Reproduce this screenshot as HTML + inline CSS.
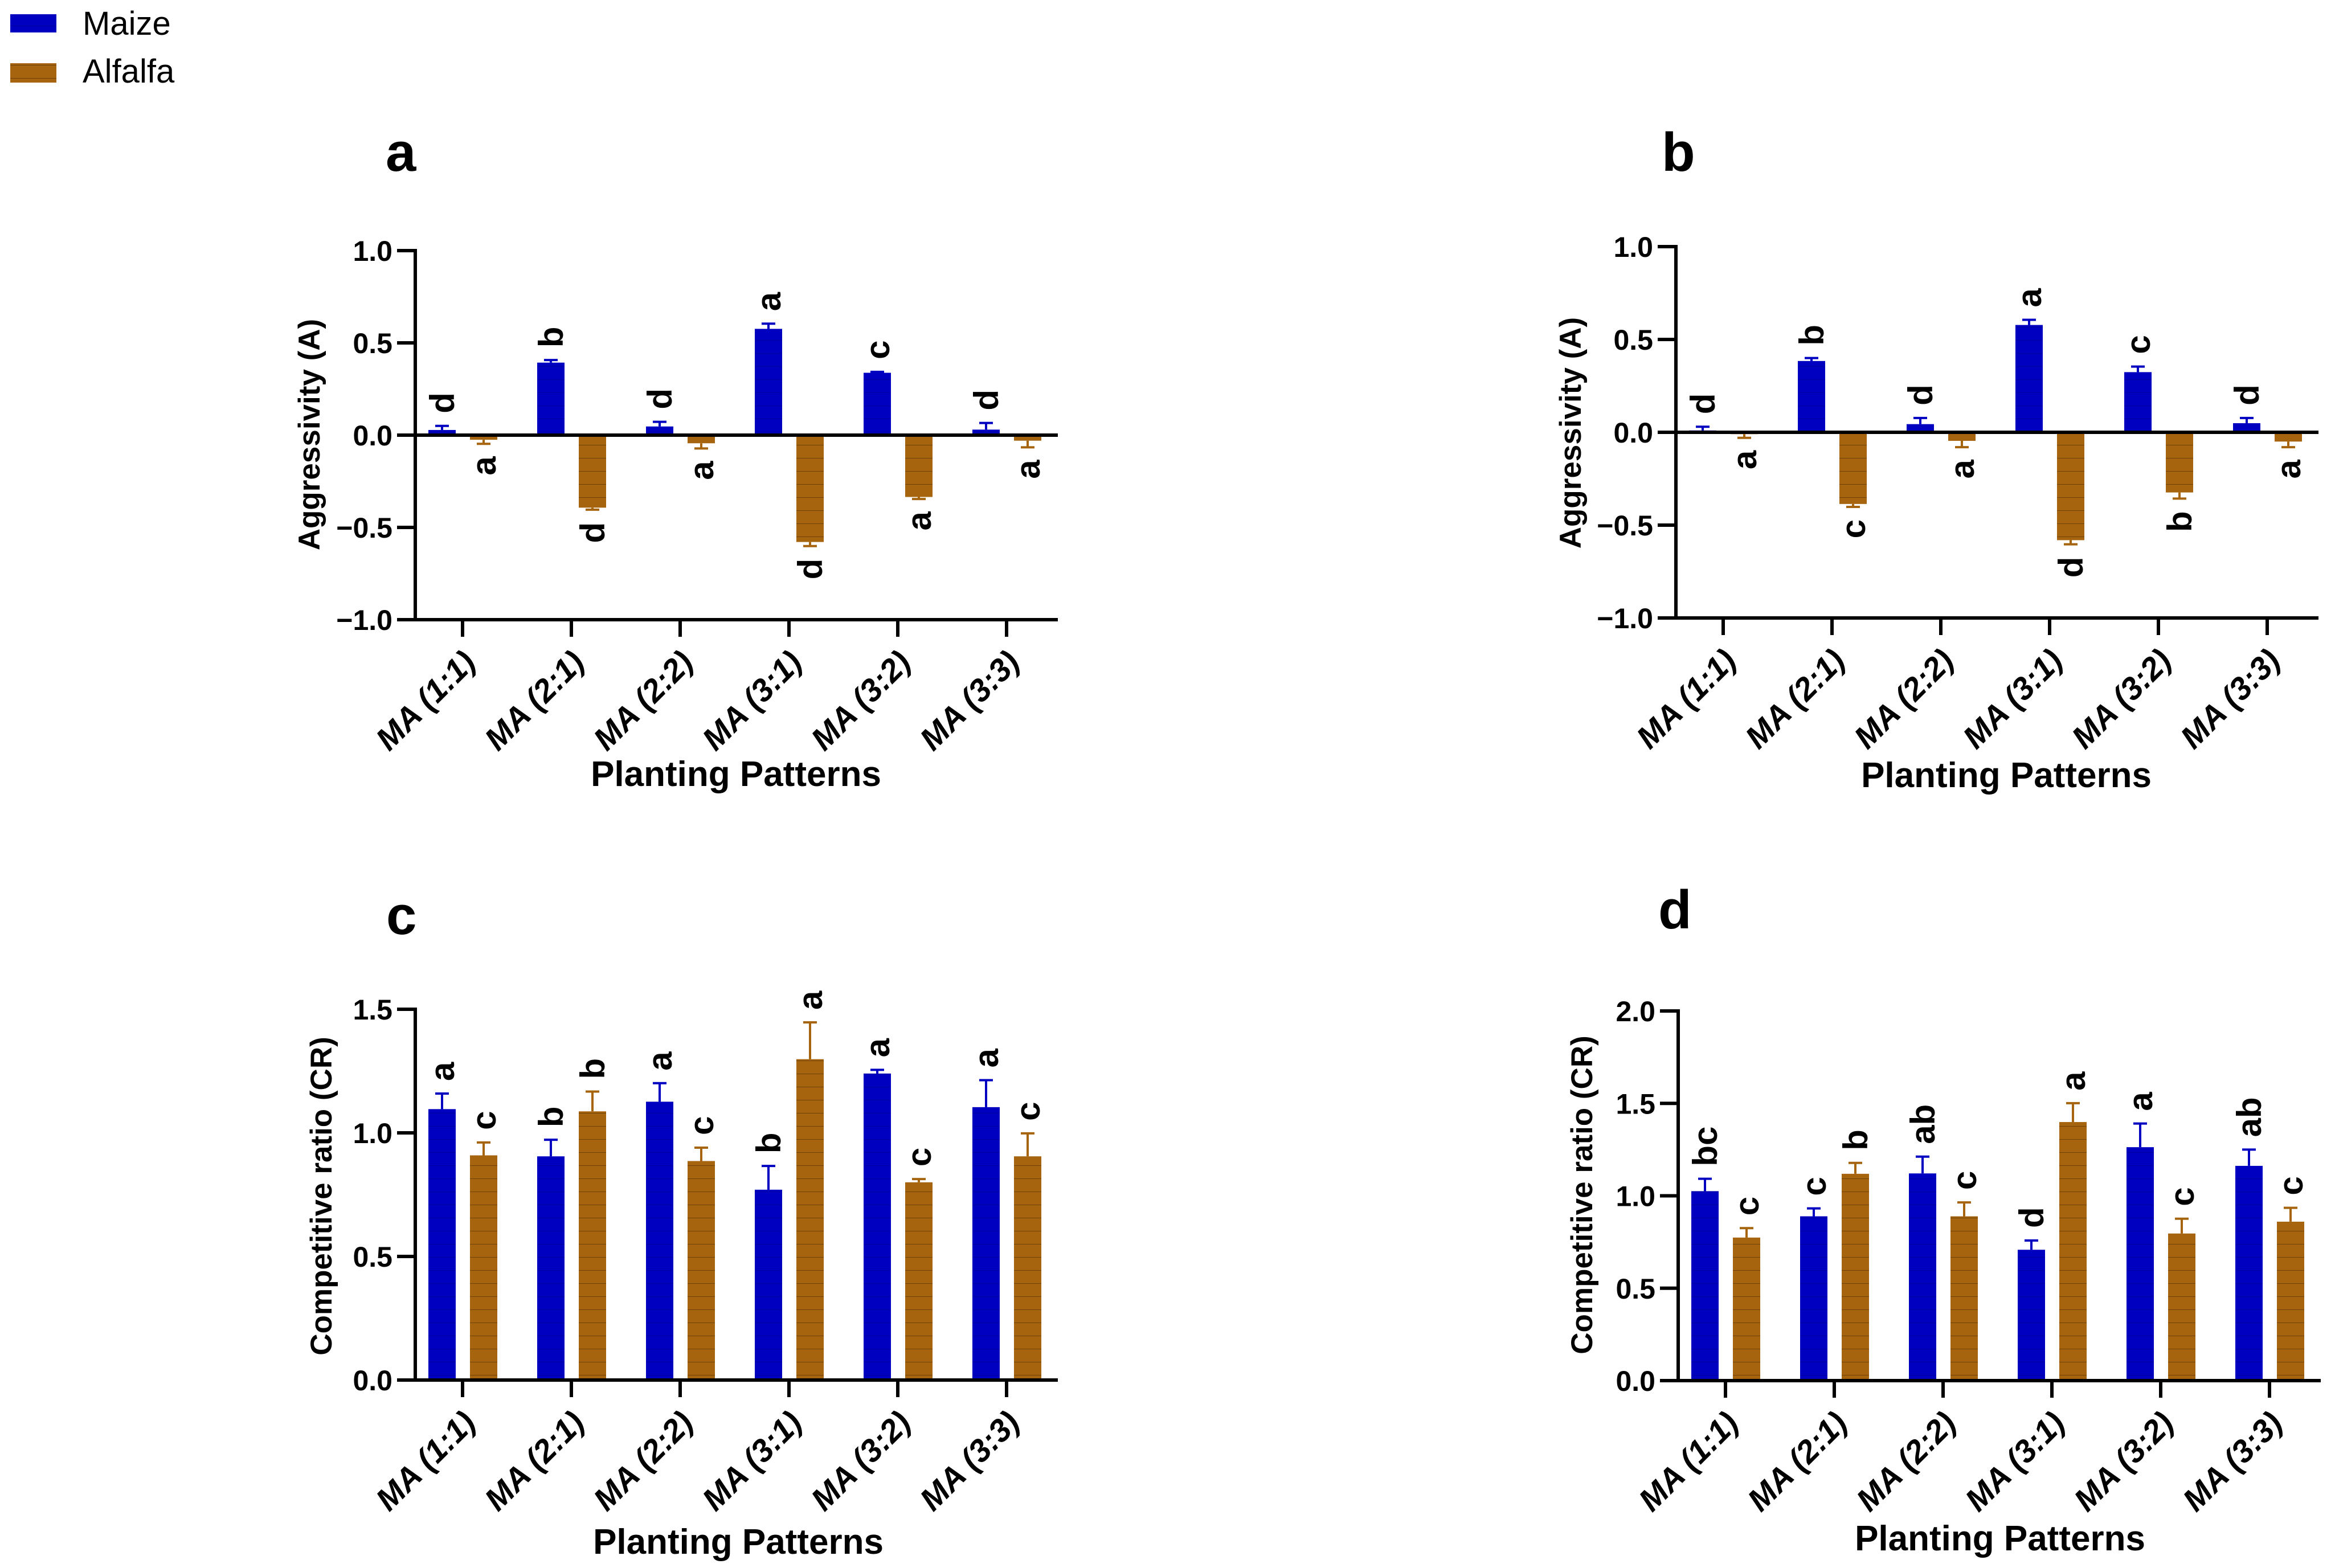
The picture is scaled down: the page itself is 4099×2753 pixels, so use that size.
<!DOCTYPE html>
<html><head><meta charset="utf-8"><style>
html,body{margin:0;padding:0;background:#fff}
svg{display:block}
text{font-family:"Liberation Sans",Arial,sans-serif}
</style></head><body>
<svg id="chart" width="4099" height="2753" viewBox="0 0 4099 2753" xmlns="http://www.w3.org/2000/svg">
<defs>
<pattern id="alfPat" patternUnits="userSpaceOnUse" width="10" height="23"><rect width="10" height="23" fill="#A6640F"/><rect y="22" width="10" height="1.5" fill="#6e420a"/></pattern>
<pattern id="maiPat" patternUnits="userSpaceOnUse" width="10" height="23"><rect width="10" height="23" fill="#0000C0"/><rect y="22" width="10" height="1.2" fill="#0000a0"/></pattern>
</defs>
<g>
<rect x="18" y="25" width="81" height="32" fill="url(#maiPat)"/>
<text x="145" y="61" font-size="58">Maize</text>
<rect x="18" y="111" width="81" height="34" fill="url(#alfPat)"/>
<text x="145" y="145" font-size="58">Alfalfa</text>
</g>
</svg>
<script>
const categories = ["MA (1:1)","MA (2:1)","MA (2:2)","MA (3:1)","MA (3:2)","MA (3:3)"];
// Panel a
const aMaize = [0.028,0.393,0.047,0.576,0.338,0.030];
const aMaizeErr = [0.050,0.407,0.072,0.604,0.343,0.066];
const aAlf = [-0.025,-0.393,-0.044,-0.579,-0.335,-0.030];
const aAlfErr = [-0.047,-0.404,-0.072,-0.601,-0.346,-0.066];
const aMaizeLet = ["d","b","d","a","c","d"];
const aAlfLet = ["a","d","a","d","a","a"];
// Panel b
const bMaize = [0.010,0.384,0.044,0.578,0.324,0.049];
const bMaizeErr = [0.030,0.400,0.077,0.606,0.354,0.077];
const bAlf = [-0.010,-0.386,-0.046,-0.581,-0.324,-0.050];
const bAlfErr = [-0.030,-0.402,-0.080,-0.603,-0.357,-0.080];
const bMaizeLet = ["d","b","d","a","c","d"];
const bAlfLet = ["a","c","a","d","b","a"];
// Panel c
const cMaize = [1.096,0.905,1.126,0.770,1.240,1.104];
const cMaizeErr = [1.159,0.972,1.201,0.866,1.255,1.213];
const cAlf = [0.909,1.087,0.886,1.298,0.800,0.905];
const cAlfErr = [0.961,1.167,0.940,1.447,0.813,0.998];
const cMaizeLet = ["a","b","a","b","a","a"];
const cAlfLet = ["c","b","c","a","c","c"];
// Panel d
const dMaize = [1.025,0.889,1.121,0.708,1.263,1.162];
const dMaizeErr = [1.092,0.932,1.212,0.758,1.391,1.250];
const dAlf = [0.774,1.119,0.889,1.399,0.796,0.860];
const dAlfErr = [0.825,1.178,0.964,1.501,0.876,0.935];
const dMaizeLet = ["bc","c","ab","d","a","ab"];
const dAlfLet = ["c","b","c","a","c","c"];
const ticksAB = [-1.0,-0.5,0.0,0.5,1.0];
const ticksC = [0.0,0.5,1.0,1.5];
const ticksD = [0.0,0.5,1.0,1.5,2.0];

const NS="http://www.w3.org/2000/svg";
const svg=document.getElementById('chart');
function mk(tag,attrs,parent){const e=document.createElementNS(NS,tag);for(const k in attrs)e.setAttribute(k,attrs[k]);(parent||svg).appendChild(e);return e;}
function fmt(v){const s=Math.abs(v).toFixed(1);return (v<0?"\u2212":"")+s;}

const panels=[
 {id:"a",ax:729,top:440,bot:1088,min:-1,max:1,ticks:ticksAB,m:aMaize,me:aMaizeErr,al:aAlf,ae:aAlfErr,ml:aMaizeLet,alL:aAlfLet,ytitle:"Aggressivity (A)",ytx:542,yty:763,lx:677,ly:300,xtx:1292,xty:1380},
 {id:"b",ax:2942,top:433,bot:1085,min:-1,max:1,ticks:ticksAB,m:bMaize,me:bMaizeErr,al:bAlf,ae:bAlfErr,ml:bMaizeLet,alL:bAlfLet,ytitle:"Aggressivity (A)",ytx:2756,yty:760,lx:2917,ly:300,xtx:3522,xty:1382},
 {id:"c",ax:729,top:1772,bot:2423,min:0,max:1.5,ticks:ticksC,m:cMaize,me:cMaizeErr,al:cAlf,ae:cAlfErr,ml:cMaizeLet,alL:cAlfLet,ytitle:"Competitive ratio (CR)",ytx:563,yty:2100,lx:678,ly:1640,xtx:1296,xty:2728},
 {id:"d",ax:2946,top:1775,bot:2424,min:0,max:2,ticks:ticksD,m:dMaize,me:dMaizeErr,al:dAlf,ae:dAlfErr,ml:dMaizeLet,alL:dAlfLet,ytitle:"Competitive ratio (CR)",ytx:2776,yty:2098,lx:2911,ly:1630,xtx:3511,xty:2722}
];

panels.forEach(p=>{
 const g=mk('g',{});
 
 
 const y=v=>p.bot-(v-p.min)/(p.max-p.min)*(p.bot-p.top);
 const xc=i=>p.ax+83+i*191;
 const end=p.ax+1128;
 const y0=y(0);
 const lt=mk('text',{x:p.lx,y:p.ly,'font-size':96,'font-weight':'bold'},g);lt.textContent=p.id;
 
 
 function series(vals,errs,lets,off,fill,stroke,name){
  vals.forEach((v,i)=>{
   const cx=xc(i)+off;
   const yv=y(v);
   const r=mk('rect',{x:cx-24,y:Math.min(yv,y0),width:48,height:Math.max(1,Math.abs(yv-y0)),fill:fill},g);
   
   
   const ye=y(errs[i]);
   const e=mk('path',{d:`M${cx} ${yv}V${ye}M${cx-12} ${ye}H${cx+12}`,stroke:stroke,'stroke-width':4,fill:'none'},g);
   
   
   const up=errs[i]>=0;
   const t=mk('text',{x:0,y:0,'font-size':60,'font-weight':'bold','text-anchor':up?'start':'end',transform:`translate(${cx+21},${up?ye-22:ye+22}) rotate(-90)`},g);
   t.textContent=lets[i];
   
   
  });
 }
 series(p.m,p.me,p.ml,-36,'url(#maiPat)','#0000C0','maize');
 series(p.al,p.ae,p.alL,37,'url(#alfPat)','#A6640F','alfalfa');
 const ya=mk('line',{x1:p.ax,y1:p.top-3,x2:p.ax,y2:p.bot+3,stroke:'#000','stroke-width':6},g);
 
 
 const xa=mk('line',{x1:p.ax,y1:p.bot,x2:end,y2:p.bot,stroke:'#000','stroke-width':6},g);
 
 
 if(p.min<0){
  const zl=mk('line',{x1:p.ax,y1:y0,x2:end,y2:y0,stroke:'#000','stroke-width':6},g);
  
  
 }
 p.ticks.forEach(v=>{
  const ty=y(v);
  mk('line',{x1:p.ax-32,y1:ty,x2:p.ax,y2:ty,stroke:'#000','stroke-width':6},g);
  const t=mk('text',{x:p.ax-40,y:ty+18,'font-size':50,'font-weight':'bold','text-anchor':'end'},g);
  t.textContent=fmt(v);
  
  
 });
 categories.forEach((c,i)=>{
  const tx=xc(i);
  mk('line',{x1:tx,y1:p.bot,x2:tx,y2:p.bot+30,stroke:'#000','stroke-width':6},g);
  const t=mk('text',{x:0,y:0,'font-size':56,'font-weight':'bold','font-style':'italic','text-anchor':'end',transform:`translate(${tx+26},${p.bot+78}) rotate(-45)`},g);
  t.textContent=c;
  
  
 });
 const yt=mk('text',{x:0,y:0,'font-size':53,'font-weight':'bold','text-anchor':'middle',transform:`translate(${p.ytx+19},${p.yty}) rotate(-90)`},g);
 yt.textContent=p.ytitle;
 
 
 const xt=mk('text',{x:p.xtx,y:p.xty,'font-size':62,'font-weight':'bold','text-anchor':'middle'},g);
 xt.textContent="Planting Patterns";
 
 
});
</script>
</body></html>
